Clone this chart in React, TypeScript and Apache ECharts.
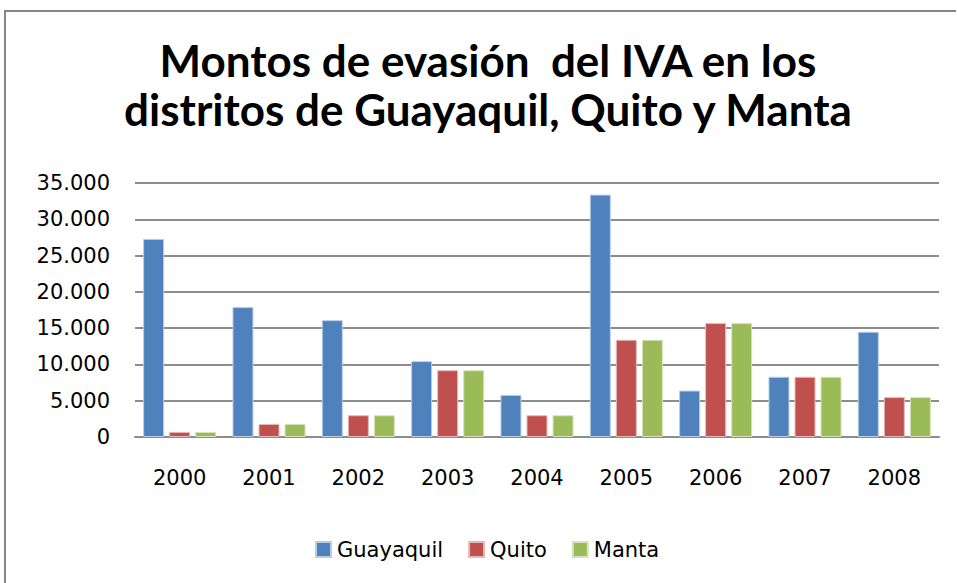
import React, { useEffect, useRef } from "react";
import * as echarts from "echarts";

const categories = ["2000", "2001", "2002", "2003", "2004", "2005", "2006", "2007", "2008"];
const guayaquil = [27300, 17900, 16100, 10450, 5800, 33400, 6400, 8300, 14500];
const quito = [700, 1800, 3000, 9200, 3000, 13400, 15700, 8300, 5500];
const manta = [700, 1800, 3000, 9200, 3000, 13400, 15700, 8300, 5500];
const titleLines = ["Montos de evasión  del IVA en los", "distritos de Guayaquil, Quito y Manta"];

const fmt = (v: number) => String(v).replace(/\B(?=(\d{3})+(?!\d))/g, ".");

export default function App() {
  const ref = useRef<HTMLDivElement>(null);
  useEffect(() => {
    if (!ref.current) return;
    const chart = echarts.init(ref.current, undefined, { renderer: "svg" });
    const axisFont = "DejaVu Sans";
    const mk = (name: string, data: number[], color: string, border: string) => ({
      name,
      type: "bar",
      data,
      barWidth: 21,
      barGap: "24%",
      itemStyle: { color, borderColor: border, borderWidth: 1 },
    });
    chart.setOption({
      animation: false,
      backgroundColor: "#ffffff",
      title: {
        text: titleLines.join("\n"),
        left: 483,
        top: 30,
        textAlign: "center",
        textStyle: {
          fontFamily: "Lato",
          fontWeight: "bold",
          fontSize: 44,
          lineHeight: 49,
          color: "#000000",
        },
      },
      graphic: [
        {
          type: "rect",
          left: 4,
          top: 10,
          shape: { width: 952, height: 2 },
          style: { fill: "#868686" },
          silent: true,
          z: 100,
        },
        {
          type: "rect",
          left: 4,
          top: 10,
          shape: { width: 2, height: 573 },
          style: { fill: "#868686" },
          silent: true,
          z: 100,
        },
      ],
      legend: {
        left: 310,
        top: 534,
        itemWidth: 15,
        itemHeight: 15,
        itemGap: 25,
        icon: "rect",
        textStyle: { fontFamily: axisFont, fontSize: 21, color: "#000000", padding: [0, 0, 0, 1] },
        data: ["Guayaquil", "Quito", "Manta"],
      },
      grid: { left: 135, right: 18, top: 183, bottom: 146, containLabel: false },
      xAxis: {
        type: "category",
        data: categories,
        axisLine: { lineStyle: { color: "#8c8c8c", width: 2 } },
        axisTick: { show: false },
        axisLabel: { fontFamily: axisFont, fontSize: 21, color: "#000000", margin: 30 },
      },
      yAxis: {
        type: "value",
        min: 0,
        max: 35000,
        interval: 5000,
        axisLine: { show: false },
        axisTick: { show: false },
        splitLine: { lineStyle: { color: "#8c8c8c", width: 2 } },
        axisLabel: {
          fontFamily: axisFont,
          fontSize: 21,
          color: "#000000",
          margin: 25,
          formatter: (v: number) => fmt(v),
        },
      },
      series: [
        mk("Guayaquil", guayaquil, "#4F81BD", "#b9cde5"),
        mk("Quito", quito, "#C0504D", "#e6b9b8"),
        mk("Manta", manta, "#9BBB59", "#d7e4bd"),
      ],
    });
    return () => chart.dispose();
  }, []);
  return <div ref={ref} style={{ width: 957, height: 583, position: "fixed", left: 0, top: 0 }} />;
}
